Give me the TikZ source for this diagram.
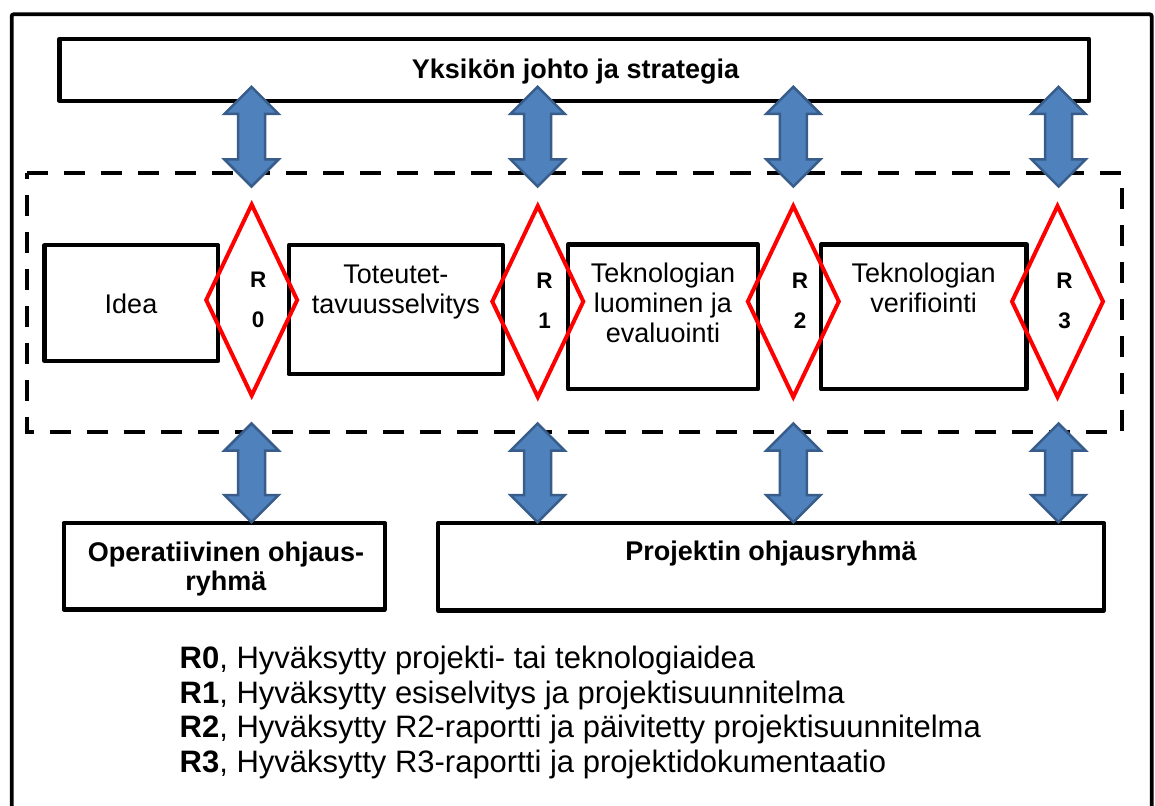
\documentclass[tikz,border=0pt]{standalone}
\usepackage{fontspec}
\setmainfont{Liberation Sans}
\usetikzlibrary{shapes.geometric,calc}

\definecolor{arrowfill}{HTML}{4F81BD}
\definecolor{arrowedge}{HTML}{385D8A}
\definecolor{gatered}{HTML}{FF0000}

\tikzset{
  box/.style={draw=black, line width=4.2pt, line join=round, inner sep=0pt, outer sep=0pt},
  gate/.style={diamond, draw=gatered, line width=4pt, inner sep=0pt, outer sep=0pt,
               minimum width=91pt, minimum height=191pt},
  blockarrow/.style={fill=arrowfill, draw=arrowedge, line width=2.5pt, line join=miter},
  phasebox/.style={dash pattern=on 21pt off 16pt, line width=4pt, draw=black},
  boxtext/.style={font=\fontsize{27}{30}\selectfont, align=center, inner sep=0pt},
  headtext/.style={font=\fontsize{27}{29}\selectfont\bfseries, align=center, inner sep=0pt},
  gatetext/.style={font=\fontsize{22.5}{40}\selectfont\bfseries, align=center, inner sep=0pt, anchor=north},
  notetext/.style={font=\fontsize{31}{34.5}\selectfont, align=left, inner sep=0pt, anchor=north west},
}

% double-headed block arrow between two points on one vertical line
\newcommand\blockpair[2]{%
  \path[blockarrow] let \p1=(#1), \p2=(#2) in
    (\x1,\y1) -- (\x1+27pt,\y1-27pt) -- (\x1+13.5pt,\y1-27pt) -- (\x1+13.5pt,\y2+27pt)
    -- (\x1+27pt,\y2+27pt) -- (\x2,\y2) -- (\x1-27pt,\y2+27pt) -- (\x1-13.5pt,\y2+27pt)
    -- (\x1-13.5pt,\y1-27pt) -- (\x1-27pt,\y1-27pt) -- cycle;}

\begin{document}
\begin{tikzpicture}[x=1pt,y=-1pt]
\useasboundingbox (0,0) rectangle (1155,805);

% outer frame, open at the bottom
\draw[line width=3.8pt, rounded corners=2pt] (11.7,815) -- (11.7,14.3) -- (1151.7,14.3) -- (1151.7,815);

% dashed frame round the phases
\draw[phasebox] (27,173) -- (1122,173) -- (1122,431.5) -- (27,431.5) -- cycle;

% management box
\node[box, minimum width=1029.5pt, minimum height=62.3pt] (lead) at (574.25,69.85) {};

% phase boxes
\node[box, minimum width=173.5pt, minimum height=115.7pt] (idea)   at (131.25,303.15) {};
\node[box, minimum width=214.3pt, minimum height=128.7pt] (feas)   at (395.85,309.65) {};
\node[box, minimum width=190pt,   minimum height=144.5pt] (create) at (663,316.75) {};
\node[box, minimum width=205.5pt, minimum height=144.5pt] (verify) at (923.75,316.75) {};

% steering groups
\node[box, minimum width=321pt, minimum height=86.5pt] (opgroup)   at (224.2,566.25) {};
\node[box, minimum width=666pt, minimum height=87.2pt] (projgroup) at (771,566.9) {};

% decision gates
\node[gate] (g0) at (251.7,300) {};
\node[gate] (g1) at (537.8,301.5) {};
\node[gate] (g2) at (793.3,301.5) {};
\node[gate] (g3) at (1057.5,301.5) {};

% block arrows to the management and the steering groups
\foreach \i/\x in {0/251.5,1/537.6,2/793.3,3/1058.5}{
  \coordinate (ut\i) at (\x,86.8);
  \coordinate (ub\i) at (\x,186.5);
  \coordinate (lt\i) at (\x,423.5);
  \coordinate (lb\i) at (\x,522.2);
  \blockpair{ut\i}{ub\i}
  \blockpair{lt\i}{lb\i}
}

% texts
\node[headtext, anchor=base] (leadtxt) at (575.5,79) {Yksikön johto ja strategia};
\node[boxtext, anchor=base] (ideatxt) at (131,313) {Idea};
\node[boxtext, anchor=north] (feastxt) at (395.9,263) {\rule{0pt}{20pt}Toteutet-\\tavuusselvitys};
\node[boxtext, anchor=north] (createtxt) at (663,262) {\rule{0pt}{20pt}Teknologian\\luominen ja\\evaluointi};
\node[boxtext, anchor=north] (verifytxt) at (923.7,262) {\rule{0pt}{20pt}Teknologian\\verifiointi};
\node[headtext, anchor=north] (optxt) at (226,541) {\rule{0pt}{20pt}Operatiivinen ohjaus-\\ryhmä};
\node[headtext, anchor=base] (projtxt) at (771,560) {Projektin ohjausryhmä};

\node[gatetext] (g0txt) at (258.2,270) {\rule{0pt}{17pt}R\\0};
\node[gatetext] (g1txt) at (544.5,271.5) {\rule{0pt}{17pt}R\\1};
\node[gatetext] (g2txt) at (800,271.5) {\rule{0pt}{17pt}R\\2};
\node[gatetext] (g3txt) at (1064.5,271.5) {\rule{0pt}{17pt}R\\3};

% legend
\node[notetext] (notes) at (179.5,644.3) {\rule{0pt}{24pt}\textbf{R0}, Hyväksytty projekti- tai teknologiaidea\\
\textbf{R1}, Hyväksytty esiselvitys ja projektisuunnitelma\\
\textbf{R2}, Hyväksytty R2-raportti ja päivitetty projektisuunnitelma\\
\textbf{R3}, Hyväksytty R3-raportti ja projektidokumentaatio};
\end{tikzpicture}
\end{document}
